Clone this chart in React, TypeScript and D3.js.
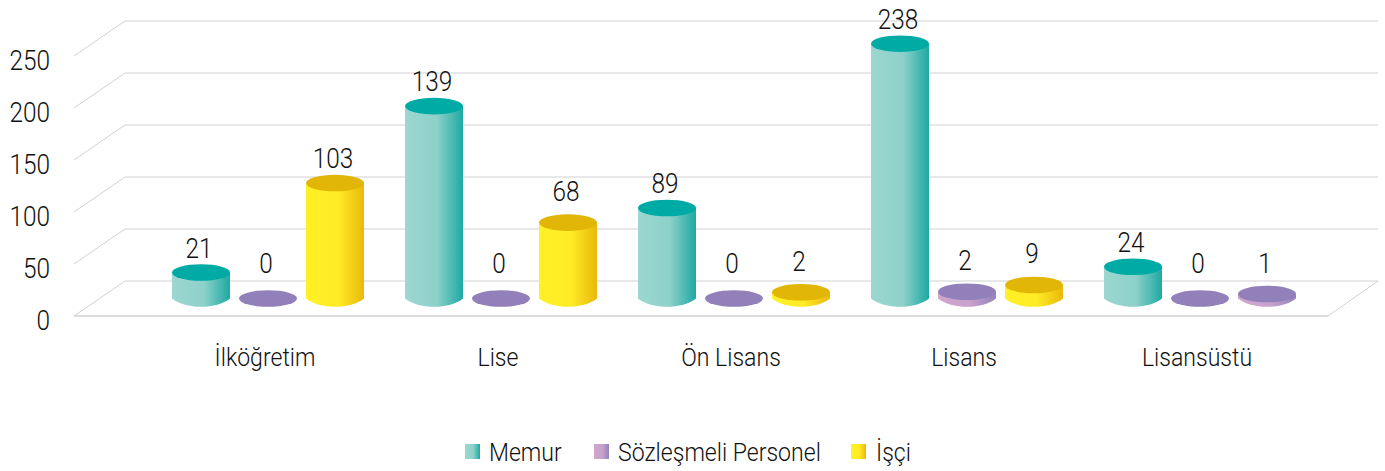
import React from "react";
import * as d3 from "d3";

const categories = ["İlköğretim", "Lise", "Ön Lisans", "Lisans", "Lisansüstü"];
const seriesNames = ["Memur", "Sözleşmeli Personel", "İşçi"];
const yTicks = [0, 50, 100, 150, 200, 250];

// printed labels
const memurLabels = [21, 139, 89, 238, 24];
const sozlesmeliLabels = [0, 0, 0, 2, 0];
const isciLabels = [103, 68, 2, 9, 1];
// heights as drawn, read against the axis (they differ from the printed labels)
const memurHeights = [25, 185, 87, 245, 30.5];
const sozlesmeliHeights = [0, 0, 0, 6.5, 0];
const isciHeights = [111, 73, 6, 13, 4.3];

const FONT = "Roboto, 'Liberation Sans', sans-serif";
const W = 1385, H = 471;
const gradients = [
  { id: "g0", stops: [["0%", "#9cd7d1"], ["55%", "#8dd1ca"], ["100%", "#1da9a3"]], top: "#00aaa5" },
  { id: "g1", stops: [["0%", "#d1a6cf"], ["55%", "#c8a2cc"], ["100%", "#9483bb"]], top: "#9280bb" },
  { id: "g2", stops: [["0%", "#fff126"], ["55%", "#ffeb26"], ["100%", "#e9b90b"]], top: "#e2b607" },
];
const heights = [memurHeights, sozlesmeliHeights, isciHeights];
const labels = [memurLabels, sozlesmeliLabels, isciLabels];
// the reference paints the last İşçi bar (Lisansüstü) in the purple style
const barStyle = (si: number, i: number) => (si === 2 && i === 4 ? 1 : si);

const y = d3.scaleLinear().domain([0, 250]).range([0, -260]);
const catX = d3.scaleBand<string>().domain(categories).range([148.5, 1313.5]);
const offsets = d3.scalePoint<string>().domain(seriesNames).range([-64, 70]);

const frontY = 316, backY = 281, frontL = 74, frontR = 1328, backL = 125, backR = 1378, floorY = 298.5;
const RX = 29, RY = 8.3;
const SX = 0.87;

function cylinder(cx: number, h: number) {
  const p = d3.path();
  const top = floorY - h;
  p.moveTo(cx - RX, top);
  p.lineTo(cx - RX, floorY);
  p.bezierCurveTo(cx - RX * 0.55, floorY + RY * 1.33, cx + RX * 0.55, floorY + RY * 1.33, cx + RX, floorY);
  p.lineTo(cx + RX, top);
  p.closePath();
  return p.toString();
}

function labelOffset(si: number, i: number, h: number) {
  if (si === 2 && i === 1) return 22; // the "68" label sits higher above its bar
  if (h === 0) return 26;
  return h < 20 ? 21.5 : 15;
}

function T({ x, y, anchor = "start", size = 28, children }: any) {
  return (
    <text transform={`translate(${x},${y}) scale(${SX},1)`} textAnchor={anchor} fontSize={size} fontWeight={300} fill="#111">
      {children}
    </text>
  );
}

export default function App() {
  const grid = "#d2d2d2";
  const legend = [
    { sw: 465, tx: 489 },
    { sw: 594, tx: 618 },
    { sw: 851, tx: 876 },
  ];
  return (
    <svg width={W} height={H} style={{ position: "absolute", left: 0, top: 0, background: "#fff" }} fontFamily={FONT}>
      <defs>
        {gradients.map((g) => (
          <linearGradient key={g.id} id={g.id} x1="0" x2="1" y1="0" y2="0">
            {g.stops.map(([o, c]) => <stop key={o} offset={o} stopColor={c} />)}
          </linearGradient>
        ))}
      </defs>
      {yTicks.map((t) => (
        <g key={t}>
          <line x1={backL} x2={backR} y1={backY + y(t)} y2={backY + y(t)} stroke={grid} strokeWidth={1.2} />
          <line x1={frontL} x2={backL} y1={frontY + y(t)} y2={backY + y(t)} stroke={grid} strokeWidth={1} />
          <T x={50} y={frontY + y(t) + 13.5} anchor="end">{t}</T>
        </g>
      ))}
      <line x1={frontL} x2={frontR} y1={frontY} y2={frontY} stroke={grid} strokeWidth={1.6} />
      <line x1={frontR} x2={backR} y1={frontY} y2={backY} stroke={grid} strokeWidth={1} />
      {categories.map((c, i) => {
        const center = catX(c)! + catX.bandwidth() / 2;
        return (
          <g key={c}>
            <T x={center} y={366} anchor="middle" size={26.5}>{c}</T>
            {seriesNames.map((s, si) => {
              const cx = center + offsets(s)!;
              const h = -y(heights[si][i]);
              const g = gradients[barStyle(si, i)];
              const topY = floorY - h;
              return (
                <g key={s}>
                  {h > 0 && <path d={cylinder(cx, h)} fill={`url(#${g.id})`} />}
                  <ellipse cx={cx} cy={topY} rx={RX} ry={RY} fill={g.top} />
                  <T x={cx - 2} y={topY - labelOffset(si, i, h)} anchor="middle">{labels[si][i]}</T>
                </g>
              );
            })}
          </g>
        );
      })}
      {seriesNames.map((s, si) => (
        <g key={s}>
          <rect x={legend[si].sw} y={444} width={15} height={15} fill={`url(#${gradients[si].id})`} />
          <T x={legend[si].tx} y={461} size={26.5}>{s}</T>
        </g>
      ))}
    </svg>
  );
}
